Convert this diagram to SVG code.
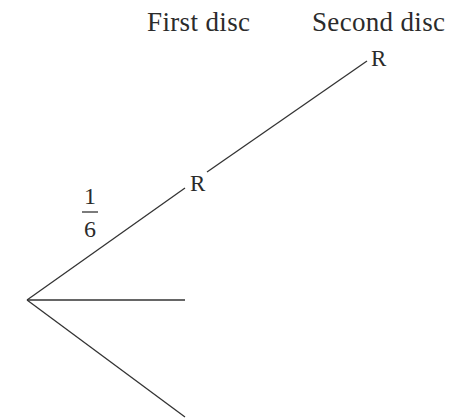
<svg xmlns="http://www.w3.org/2000/svg" width="456" height="419" viewBox="0 0 456 419">
<style>
text{font-family:"Liberation Serif","Times New Roman",serif;fill:#2b2b2b}
.h{font-size:27px}
.l{font-size:23px}
.f{font-size:24px}
.e{stroke:#333;stroke-width:1.3;fill:none}
</style>
<rect width="456" height="419" fill="#fff"/>
<g id="headers">
<text class="h" x="147" y="31" textLength="103">First disc</text>
<text class="h" x="312" y="31" textLength="133">Second disc</text>
</g>
<g id="connectors">
<line class="e" x1="27" y1="300" x2="185" y2="188"/>
<line class="e" x1="27" y1="300" x2="185" y2="300"/>
<line class="e" x1="27" y1="300" x2="185" y2="417"/>
<line class="e" x1="207" y1="172" x2="367" y2="61"/>
</g>
<g id="node-R1">
<text class="l" x="190" y="191">R</text>
</g>
<g id="node-R2">
<text class="l" x="371" y="66">R</text>
</g>
<g id="label-prob">
<text class="f" x="90" y="204" text-anchor="middle">1</text>
<line x1="82" y1="212" x2="98" y2="212" stroke="#333" stroke-width="1.3"/>
<text class="f" x="90" y="237" text-anchor="middle">6</text>
</g>
</svg>
